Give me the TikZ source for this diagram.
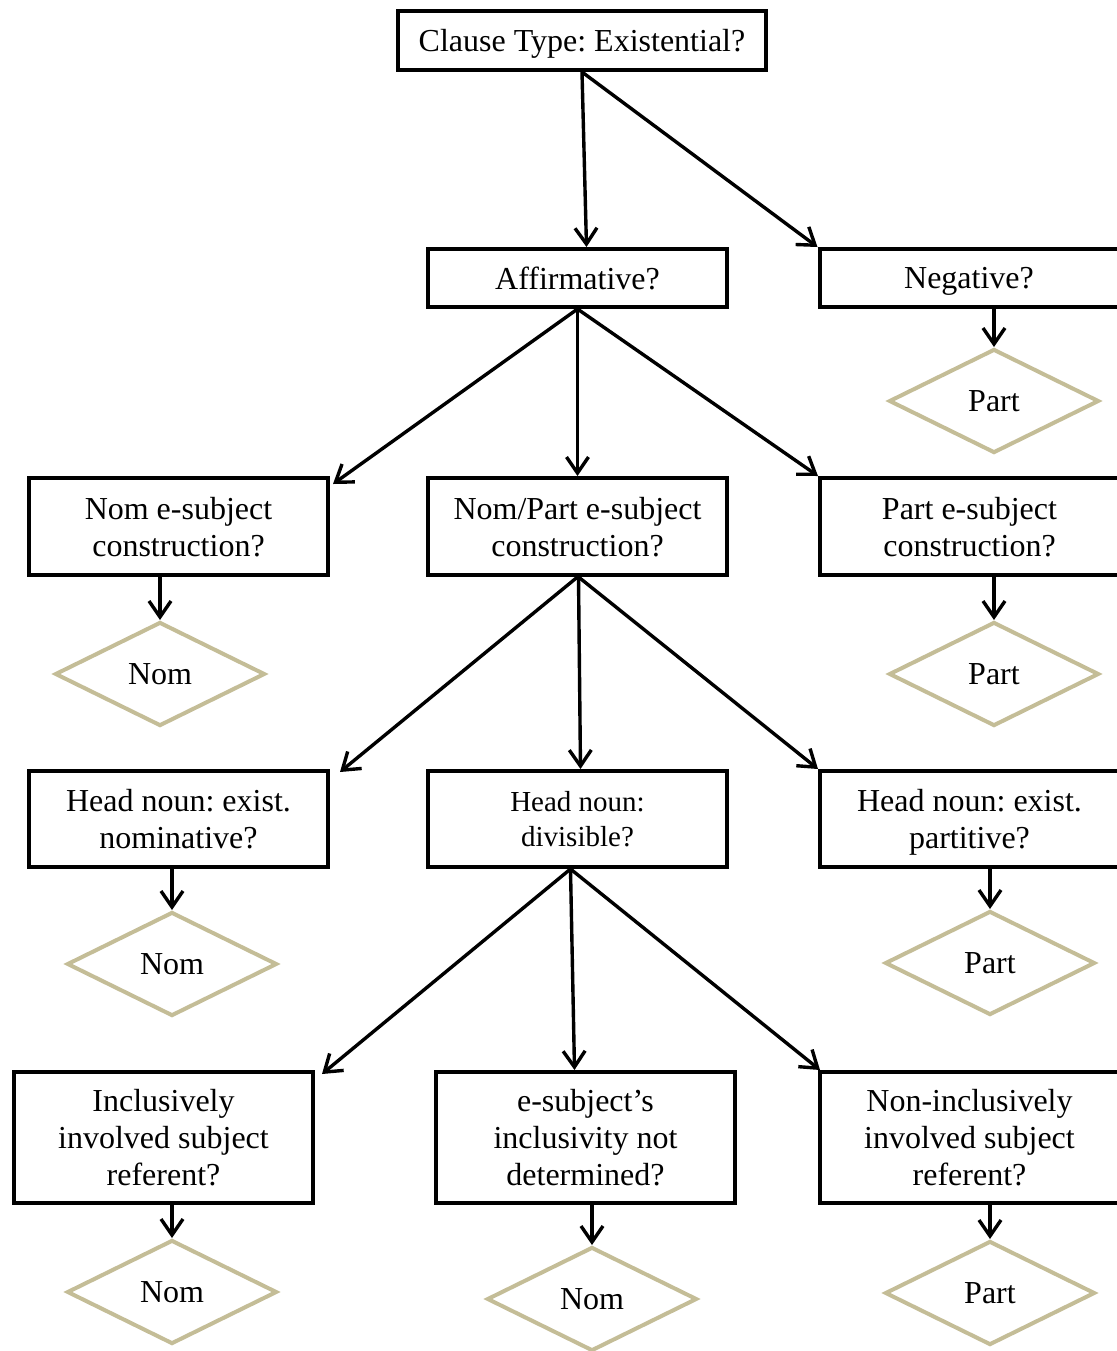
\documentclass[tikz,border=0pt]{standalone}
\usepackage{fontspec}
\setmainfont{Liberation Serif}
\usepackage{xcolor}
\usetikzlibrary{shapes.geometric,arrows.meta}

\definecolor{leaftan}{RGB}{196,189,151}

\tikzset{
  qbox/.style={rectangle, draw=black, line width=2pt, fill=white, align=center,
    minimum width=149.5pt, inner sep=2pt, text depth=0pt},
  leaf/.style={diamond, draw=leaftan, line width=2pt, fill=white, inner sep=0pt,
    minimum width=105pt, minimum height=52pt},
  link/.style={line width=1.7pt, -{Straight Barb[length=8pt,width=11pt,line width=1.7pt]}}
}

\begin{document}
\begin{tikzpicture}[x=0.5pt, y=-0.5pt, font=\fontsize{16}{18.5}\selectfont\frenchspacing]
\useasboundingbox (0,0) rectangle (1116,1351);

\node[qbox, minimum width=184pt, minimum height=29.5pt] (clause) at (582,40.5) {Clause Type: Existential?};
\node[qbox, minimum height=29pt] (affirm) at (577.5,278) {Affirmative?};
\node[qbox, minimum height=29pt] (negat) at (969,278) {Negative?};

\node[qbox, minimum height=48.5pt] (nomsub) at (178.5,526.5) {Nom e-subject\\construction?};
\node[qbox, minimum height=48.5pt] (nompartsub) at (577.5,526.5) {Nom/Part e-subject\\construction?};
\node[qbox, minimum height=48.5pt] (partsub) at (969.5,526.5) {Part e-subject\\construction?};

\node[qbox, minimum height=48pt] (headnom) at (178.5,819) {Head noun: exist.\\nominative?};
\node[qbox, minimum height=48pt, font=\fontsize{14.5}{17.5}\selectfont] (headdiv) at (577.5,819) {Head noun:\\divisible?};
\node[qbox, minimum height=48pt] (headpart) at (969.5,819) {Head noun: exist.\\partitive?};

\node[qbox, minimum height=65.5pt] (incl) at (163.5,1137.5) {Inclusively\\involved subject\\referent?};
\node[qbox, minimum height=65.5pt] (undet) at (585.5,1137.5) {e-subject's\\inclusivity not\\determined?};
\node[qbox, minimum height=65.5pt] (nonincl) at (969.5,1137.5) {Non-inclusively\\involved subject\\referent?};

\node[leaf] (negleaf) at (994,401) {Part};
\node[leaf] (nomleaf) at (160,674) {Nom};
\node[leaf] (partleaf) at (994,674) {Part};
\node[leaf] (headnomleaf) at (172,964) {Nom};
\node[leaf] (headpartleaf) at (990,963) {Part};
\node[leaf] (inclleaf) at (172,1292) {Nom};
\node[leaf] (undetleaf) at (592,1299) {Nom};
\node[leaf] (noninclleaf) at (990,1293) {Part};

\draw[link] (clause.south) -- ([xshift=4.5pt]affirm.north);
\draw[link] (clause.south) -- (negat.north west);
\draw[link] (affirm.south) -- ([xshift=1.5pt,yshift=-4pt]nomsub.north east);
\draw[link] (affirm.south) -- (nompartsub.north);
\draw[link] (affirm.south) -- (partsub.north west);
\draw[link] (nompartsub.south) -- ([xshift=5pt,yshift=-1.5pt]headnom.north east);
\draw[link] ([xshift=0.5pt]nompartsub.south) -- ([xshift=1.5pt]headdiv.north);
\draw[link] ([xshift=0.5pt]nompartsub.south) -- (headpart.north west);
\draw[link] ([xshift=-3.5pt]headdiv.south) -- ([xshift=3.5pt,yshift=-2pt]incl.north east);
\draw[link] ([xshift=-3.5pt]headdiv.south) -- ([xshift=-5.5pt]undet.north);
\draw[link] ([xshift=-3.5pt]headdiv.south) -- ([xshift=1pt]nonincl.north west);

\draw[link] (negleaf.north |- negat.south) -- (negleaf.north);
\draw[link] (nomleaf.north |- nomsub.south) -- (nomleaf.north);
\draw[link] (partleaf.north |- partsub.south) -- (partleaf.north);
\draw[link] (headnomleaf.north |- headnom.south) -- (headnomleaf.north);
\draw[link] (headpartleaf.north |- headpart.south) -- (headpartleaf.north);
\draw[link] (inclleaf.north |- incl.south) -- (inclleaf.north);
\draw[link] (undetleaf.north |- undet.south) -- (undetleaf.north);
\draw[link] (noninclleaf.north |- nonincl.south) -- (noninclleaf.north);
\end{tikzpicture}
\end{document}
